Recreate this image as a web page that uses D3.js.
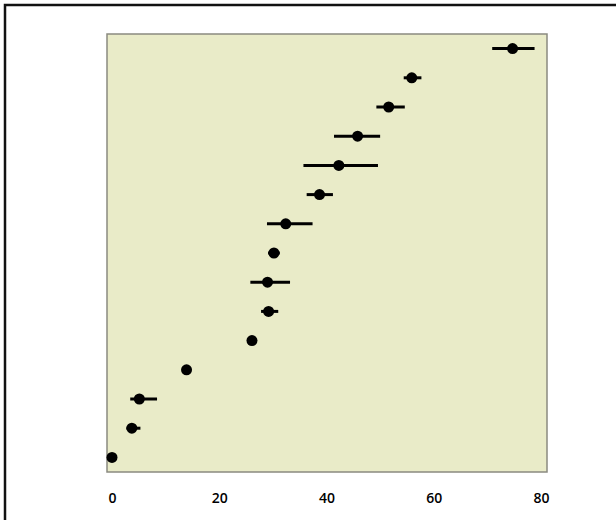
<!DOCTYPE html>
<html>
<head>
<meta charset="utf-8">
<script src="https://cdn.jsdelivr.net/npm/d3@7"></script>
<style>
  body { margin: 0; background: #fff; }
  svg { display: block; }
</style>
</head>
<body>
<div id="chart"></div>
<script>
// size of the page
let width = 616;
let height = 520;

// data, top row first
let rows = ["r1","r2","r3","r4","r5","r6","r7","r8","r9","r10","r11","r12","r13","r14","r15"];
let estimate = [74.7, 55.9, 51.6, 45.8, 42.3, 38.7, 32.4, 30.2, 29.0, 29.2, 26.1, 13.9, 5.1, 3.7, 0];
let lower    = [70.9, 54.4, 49.3, 41.4, 35.7, 36.3, 28.9, 29.1, 25.8, 27.8, 26.1, 13.9, 3.4, 2.7, 0];
let upper    = [78.8, 57.7, 54.6, 50.0, 49.6, 41.2, 37.4, 31.3, 33.2, 31.0, 26.1, 13.9, 8.4, 5.3, 0];
let xTicks = [0, 20, 40, 60, 80];

// plot panel
let panel = { left: 107, right: 547, top: 34, bottom: 472 };

let svg = d3.select("#chart").append("svg").attr("width", width).attr("height", height);

// outer frame of the scan
svg.append("path").attr("d", `M5,${height} L5,5 L${width},5`)
    .attr("fill", "none").attr("stroke", "#111").attr("stroke-width", 2.5);

let xScale = d3.scaleLinear().domain([0, 80]).range([112, 541]);
let yScale = d3.scaleBand().domain(rows).range([panel.top, panel.bottom]);

// panel background
svg.append("rect")
    .attr("x", panel.left).attr("y", panel.top)
    .attr("width", panel.right - panel.left).attr("height", panel.bottom - panel.top)
    .attr("fill", "#e9ebc8").attr("stroke", "#8a8a80").attr("stroke-width", 1.5);

// error bars
svg.selectAll(".bar").data(rows).enter().append("line")
    .attr("class", "bar")
    .attr("x1", (d, i) => xScale(lower[i]))
    .attr("x2", (d, i) => xScale(upper[i]))
    .attr("y1", d => yScale(d) + yScale.bandwidth() / 2)
    .attr("y2", d => yScale(d) + yScale.bandwidth() / 2)
    .attr("stroke", "#000").attr("stroke-width", 3);

// points
svg.selectAll(".dot").data(rows).enter().append("circle")
    .attr("class", "dot")
    .attr("cx", (d, i) => xScale(estimate[i]))
    .attr("cy", d => yScale(d) + yScale.bandwidth() / 2)
    .attr("r", 5.5)
    .attr("fill", "#000");

// x axis, labels only
let xAxis = d3.axisBottom(xScale).tickValues(xTicks).tickSize(0).tickPadding(0);
let axisG = svg.append("g").attr("transform", "translate(0, 493)").call(xAxis);
axisG.select(".domain").remove();
axisG.selectAll("text")
    .attr("font-family", "'Open Sans', sans-serif")
    .attr("font-size", "14px")
    .attr("font-weight", 600)
    .attr("fill", "#000");
</script>
</body>
</html>
